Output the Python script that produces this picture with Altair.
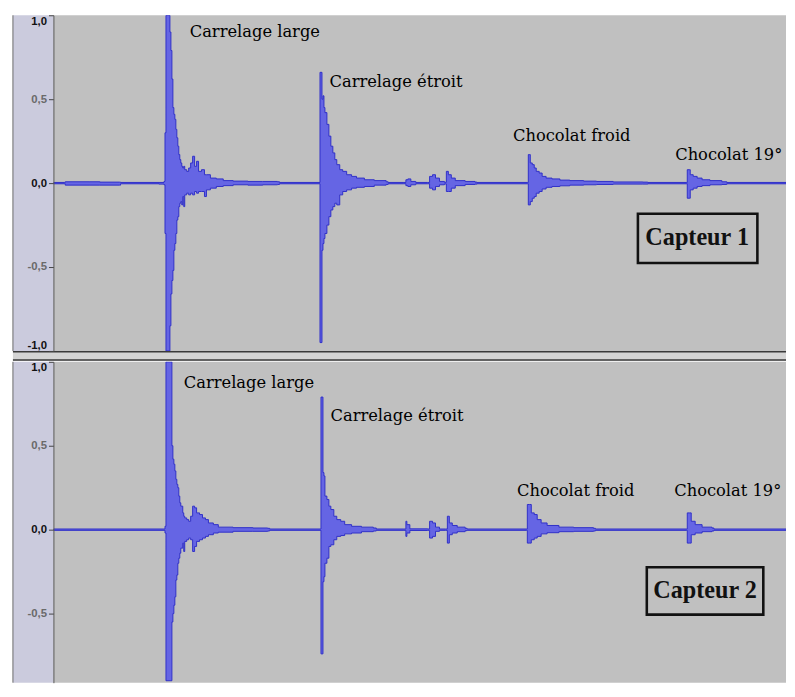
import altair as alt
import pandas as pd

# ---------------- data ----------------
# time axis in arbitrary (screen) units, amplitude in [-1, 1]
T1 = [53, 64, 65, 90, 100, 120, 121, 160, 165, 166, 167, 170, 171, 172, 173, 174, 175, 176, 177, 178,
      179, 180, 181, 182, 183, 184, 185, 186, 188, 190, 192, 194, 196, 198, 200, 203, 206, 208, 212, 218,
      225, 235, 250, 265, 280, 282, 322, 323, 324, 325, 326, 327, 328, 330, 332, 334, 336, 338, 340, 343,
      346, 350, 355, 360, 368, 378, 390, 392, 408, 410, 412, 415, 420, 432, 434, 437, 440, 444, 449, 451,
      453, 456, 460, 470, 480, 482, 533, 534, 535, 536, 538, 540, 542, 545, 548, 552, 558, 566, 576, 590,
      603, 620, 650, 655, 694, 695, 697, 698, 701, 705, 710, 718, 730, 735, 795]
HI1 = [0.004, 0.004, 0.008, 0.008, 0.006, 0.006, 0.004, 0.004, 0.01, 0.3, 1.0, 1.0, 0.9, 0.79, 0.62, 0.45, 0.41, 0.38, 0.32, 0.27,
       0.22, 0.17, 0.14, 0.12, 0.1, 0.09, 0.1, 0.08, 0.07, 0.09, 0.12, 0.16, 0.1, 0.13, 0.07, 0.08, 0.05, 0.05, 0.03, 0.025,
       0.015, 0.012, 0.01, 0.01, 0.008, 0.004, 0.004, 0.66, 0.66, 0.5, 0.52, 0.45, 0.42, 0.35, 0.28, 0.22, 0.18, 0.14, 0.11, 0.08,
       0.07, 0.05, 0.04, 0.03, 0.02, 0.015, 0.008, 0.004, 0.004, 0.02, 0.025, 0.01, 0.004, 0.004, 0.04, 0.05, 0.03, 0.01, 0.005, 0.07,
       0.05, 0.03, 0.015, 0.01, 0.006, 0.004, 0.004, 0.17, 0.17, 0.12, 0.11, 0.09, 0.07, 0.06, 0.04, 0.03, 0.025, 0.018, 0.015, 0.012,
       0.01, 0.007, 0.006, 0.004, 0.004, 0.08, 0.08, 0.05, 0.04, 0.03, 0.02, 0.015, 0.008, 0.004, 0.004]
LO1 = [-0.004, -0.004, -0.012, -0.012, -0.012, -0.012, -0.004, -0.006, -0.01, -0.3, -1.0, -1.0, -0.85, -0.66, -0.58, -0.52, -0.4, -0.36, -0.3, -0.22,
       -0.2, -0.14, -0.12, -0.11, -0.13, -0.08, -0.14, -0.07, -0.06, -0.07, -0.06, -0.07, -0.05, -0.06, -0.05, -0.05, -0.08, -0.04, -0.03, -0.02,
       -0.015, -0.01, -0.012, -0.01, -0.008, -0.004, -0.004, -0.95, -0.95, -0.4, -0.36, -0.33, -0.3, -0.25, -0.2, -0.16, -0.14, -0.12, -0.13, -0.07,
       -0.05, -0.04, -0.03, -0.025, -0.02, -0.012, -0.008, -0.004, -0.004, -0.015, -0.02, -0.01, -0.004, -0.004, -0.03, -0.04, -0.02, -0.01, -0.005, -0.05,
       -0.05, -0.03, -0.015, -0.008, -0.006, -0.004, -0.004, -0.13, -0.13, -0.11, -0.09, -0.08, -0.06, -0.05, -0.035, -0.025, -0.02, -0.016, -0.012, -0.01,
       -0.008, -0.006, -0.006, -0.004, -0.004, -0.09, -0.09, -0.04, -0.03, -0.02, -0.015, -0.01, -0.008, -0.004, -0.004]

T2 = [53, 164, 166, 167, 172, 173, 174, 175, 176, 177, 178, 179, 180, 181, 182, 184, 185, 186, 188, 190,
      192, 194, 196, 198, 201, 204, 207, 210, 215, 220, 235, 255, 270, 272, 323, 324, 325, 326, 327, 328,
      330, 332, 334, 337, 340, 344, 348, 355, 365, 377, 380, 408, 410, 411, 414, 432, 434, 437, 440, 444,
      450, 452, 454, 457, 462, 470, 472, 532, 533, 535, 537, 540, 543, 547, 553, 565, 580, 600, 602, 694,
      695, 697, 699, 703, 710, 720, 722, 795]
HI2 = [0.004, 0.004, 0.02, 1.0, 1.0, 0.5, 0.42, 0.39, 0.35, 0.3, 0.27, 0.25, 0.2, 0.16, 0.14, 0.1, 0.08, 0.07, 0.06, 0.05,
       0.08, 0.14, 0.13, 0.1, 0.09, 0.07, 0.06, 0.04, 0.03, 0.015, 0.012, 0.01, 0.008, 0.004, 0.004, 0.79, 0.79, 0.34, 0.32, 0.2,
       0.18, 0.14, 0.12, 0.08, 0.06, 0.05, 0.03, 0.02, 0.015, 0.01, 0.004, 0.004, 0.05, 0.03, 0.005, 0.004, 0.05, 0.04, 0.015, 0.004,
       0.004, 0.08, 0.04, 0.025, 0.015, 0.008, 0.004, 0.004, 0.15, 0.15, 0.1, 0.09, 0.06, 0.04, 0.025, 0.015, 0.012, 0.008, 0.004, 0.004,
       0.1, 0.1, 0.05, 0.03, 0.015, 0.01, 0.004, 0.004]
LO2 = [-0.004, -0.004, -0.02, -0.9, -0.9, -0.55, -0.5, -0.45, -0.4, -0.3, -0.27, -0.2, -0.17, -0.14, -0.11, -0.08, -0.13, -0.07, -0.06, -0.05,
       -0.06, -0.13, -0.1, -0.07, -0.06, -0.05, -0.04, -0.03, -0.02, -0.015, -0.01, -0.01, -0.008, -0.004, -0.004, -0.74, -0.74, -0.31, -0.28, -0.2,
       -0.17, -0.1, -0.09, -0.06, -0.04, -0.035, -0.025, -0.02, -0.012, -0.008, -0.004, -0.004, -0.04, -0.02, -0.005, -0.004, -0.05, -0.04, -0.01, -0.004,
       -0.004, -0.08, -0.03, -0.02, -0.012, -0.006, -0.004, -0.004, -0.08, -0.08, -0.06, -0.05, -0.04, -0.025, -0.018, -0.012, -0.01, -0.008, -0.004, -0.004,
       -0.08, -0.08, -0.03, -0.02, -0.012, -0.008, -0.004, -0.004]

LABELS = ["Carrelage large", "Carrelage étroit", "Chocolat froid", "Chocolat 19°"]
LAB_T1 = [257, 400, 578, 737]
LAB_V1 = [0.90, 0.60, 0.282, 0.165]
LAB_T2 = [251, 401, 582, 736]
LAB_V2 = [0.876, 0.676, 0.23, 0.23]

SENSORS = ["Capteur 1", "Capteur 2"]
BOX_T = [[645, 766], [654, 772]]
BOX_V = [[-0.182, -0.476], [-0.224, -0.506]]
SENSOR_T = [705, 713]
SENSOR_V = [-0.33, -0.365]

YTICKS1 = [-1, -0.5, 0, 0.5, 1]
YTICKS2 = [-0.5, 0, 0.5, 1]

# ---------------- drawing ----------------
W = 742
XS = alt.Scale(domain=[53, 795], nice=False, zero=False)
WAVE_FILL = "#6565e4"
WAVE_EDGE = "#3030c8"


def panel(T, HI, LO, lab_t, lab_v, box_t, box_v, s_t, s_v, name, h, ydom, yticks, separator):
    ys = alt.Scale(domain=ydom, nice=False, zero=False)
    wave = pd.DataFrame({"t": T, "hi": HI, "lo": LO})
    one = pd.DataFrame({"z": [0]})
    yaxis = alt.Axis(
        values=yticks,
        labelExpr="replace(replace(format(datum.value, '.1f'), '.', ','), '\u2212', '-')",
        title=None, grid=False, tickSize=5, tickColor="#444444", domainColor="#555555",
        labelFont="Liberation Sans", labelFontSize=11.5, labelFontWeight="bold",
        labelColor={"condition": {"test": "abs(datum.value) == 0.5", "value": "#6a6a6a"}, "value": "#111111"},
        labelPadding=2, labelFlush=True, zindex=1,
    )

    def Y(field):
        return alt.Y(field, scale=ys, axis=yaxis)

    X = alt.X("t:Q", scale=XS, axis=None)
    strip = alt.Chart(one).mark_rect(color="#cbcbdd").encode(
        x=alt.value(-41), x2=alt.value(0), y=alt.value(0), y2=alt.value(h))
    border = alt.Chart(one).mark_rule(color="#6a6a6a", strokeWidth=1).encode(
        x=alt.value(-41), y=alt.value(0), y2=alt.value(h))
    base = alt.Chart(one).mark_rule(color="#5858dc", strokeWidth=1.2).encode(y=Y("z:Q"))
    area = alt.Chart(wave).mark_area(color=WAVE_FILL, clip=True, interpolate="step-after").encode(
        x=X, y=Y("hi:Q"), y2="lo:Q")
    hi_line = alt.Chart(wave).mark_line(color=WAVE_EDGE, strokeWidth=1, clip=True,
                                        interpolate="step-after").encode(x=X, y=Y("hi:Q"))
    lo_line = alt.Chart(wave).mark_line(color=WAVE_EDGE, strokeWidth=1, clip=True,
                                        interpolate="step-after").encode(x=X, y=Y("lo:Q"))
    labels = alt.Chart(pd.DataFrame({"t": lab_t, "v": lab_v, "s": LABELS})).mark_text(
        font="DejaVu Serif", fontSize=16.5, color="#000000").encode(
        x=X, y=Y("v:Q"), text="s:N")
    box = alt.Chart(pd.DataFrame({"t": [box_t[0]], "t2": [box_t[1]],
                                  "y1": [box_v[0]], "y2": [box_v[1]]})).mark_rect(
        fill="transparent", stroke="#111111", strokeWidth=2.6).encode(
        x=X, x2="t2:Q", y=Y("y1:Q"), y2="y2:Q")
    sensor = alt.Chart(pd.DataFrame({"t": [s_t], "v": [s_v], "s": [name]})).mark_text(
        font="Liberation Serif", fontSize=24.5, fontWeight="bold", color="#111111").encode(
        x=X, y=Y("v:Q"), text="s:N")
    layers = [strip, border, base, area, hi_line, lo_line, labels, box, sensor]
    if separator:
        sep = alt.Chart(one).mark_rect(color="#d4d4d4").encode(
            x=alt.value(-41), x2=alt.value(W), y=alt.value(h), y2=alt.value(h + 10))
        sep_a = alt.Chart(one).mark_rule(color="#3a3a3a", strokeWidth=1.5).encode(
            x=alt.value(-41), x2=alt.value(W), y=alt.value(h + 0.75))
        sep_b = alt.Chart(one).mark_rule(color="#3a3a3a", strokeWidth=1.5).encode(
            x=alt.value(-41), x2=alt.value(W), y=alt.value(h + 9.25))
        layers += [sep, sep_a, sep_b]
    return alt.layer(*layers).properties(width=W, height=h)


H1 = 340
H2 = 325
top = panel(T1, HI1, LO1, LAB_T1, LAB_V1, BOX_T[0], BOX_V[0], SENSOR_T[0], SENSOR_V[0],
            SENSORS[0], H1, [-1.0, 1.0], YTICKS1, True)
bottom = panel(T2, HI2, LO2, LAB_T2, LAB_V2, BOX_T[1], BOX_V[1], SENSOR_T[1], SENSOR_V[1],
               SENSORS[1], H2, [-(H2 - 170) / 170, 1.0], YTICKS2, False)

chart = alt.vconcat(top, bottom, spacing=0).properties(
    padding={"left": 4, "top": 2, "right": 0, "bottom": 0},
    background="white",
).configure_view(fill="#c0c0c0", strokeWidth=0)

chart.save("out.html", embed_options={"renderer": "svg", "actions": False})
